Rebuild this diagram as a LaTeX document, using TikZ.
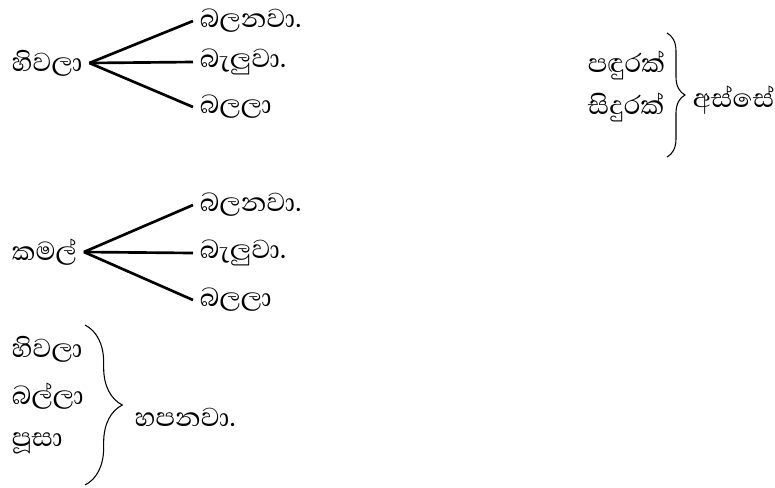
\documentclass[tikz,border=0pt]{standalone}
\usepackage{fontspec}
\setmainfont[Script=Sinhala]{Abhaya Libre}
\usepackage{tikz}
\usetikzlibrary{decorations.pathreplacing}
\tikzset{
    word/.style={
        anchor=west,
        inner xsep=5pt,
        inner ysep=3pt,
        font=\fontsize{25}{30}\selectfont
    }
}
\tikzset{
    fanline/.style={line width=2pt}
}
\tikzset{
    curly/.style={decorate, decoration={brace, amplitude=#1}, line width=0.8pt}
}
\newcommand{\drawWord}[3]{\node[word] (#1) at #2 {#3}}
\begin{document}
\begin{tikzpicture}[x=0.75pt, y=-0.75pt]

    \useasboundingbox (0,0) rectangle (775,487);

    \drawWord{hivalaA}{(5,63)}{හිවලා};
    \drawWord{balanavaA}{(193,21)}{බලනවා.};
    \drawWord{baeluvaA}{(193,62)}{බැලුවා.};
    \drawWord{balalaA}{(193,107)}{බලලා};

    \draw[fanline] (hivalaA.east) -- (balanavaA.west);
    \draw[fanline] (hivalaA.east) -- (baeluvaA.west);
    \draw[fanline] (hivalaA.east) -- (balalaA.west);


    \drawWord{kamalB}{(5,252)}{කමල්};
    \drawWord{balanavaB}{(193,205)}{බලනවා.};
    \drawWord{baeluvaB}{(193,253)}{බැලුවා.};
    \drawWord{balalaB}{(193,300)}{බලලා};

    \draw[fanline] (kamalB.east) -- (balanavaB.west);
    \draw[fanline] (kamalB.east) -- (baeluvaB.west);
    \draw[fanline] (kamalB.east) -- (balalaB.west);


    \drawWord{panduraka}{(581,65)}{පඳුරක්};
    \drawWord{siduraka}{(581,107)}{සිදුරක්};
    \drawWord{asse}{(686,100)}{අස්සේ};

    \coordinate (braceAtop) at (667,33);
    \coordinate (braceAbot) at (667,157);
    \draw[curly=13.5pt] (braceAtop) -- (braceAbot);


    \drawWord{hivalaC}{(5,349)}{හිවලා};
    \drawWord{ballaC}{(5,396)}{බල්ලා};
    \drawWord{pusaC}{(5,443)}{පූසා};
    \drawWord{hapanava}{(128,417)}{හපනවා.};

    \coordinate (braceCtop) at (85,325);
    \coordinate (braceCbot) at (85,485);
    \draw[curly=28pt] (braceCtop) -- (braceCbot);

\end{tikzpicture}
\end{document}
